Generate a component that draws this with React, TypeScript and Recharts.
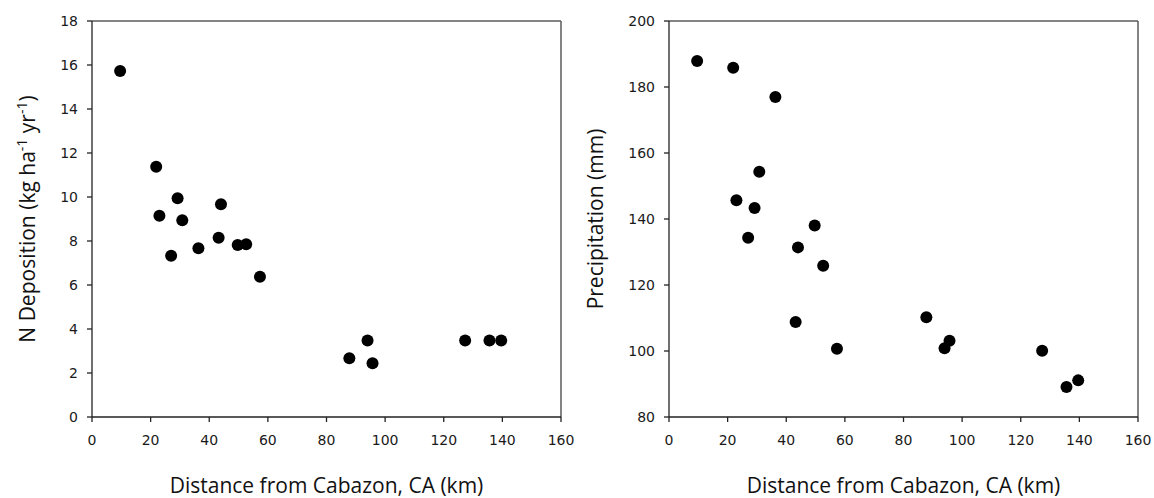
import React from 'react';
import { ScatterChart, Scatter, XAxis, YAxis, ReferenceLine, Label } from 'recharts';

const distanceKm = [9.6, 21.9, 23.0, 27.0, 29.2, 30.8, 36.3, 43.2, 44.0, 49.7, 52.6, 57.3, 87.8, 94.0, 95.7, 127.3, 135.6, 139.6];
const nDeposition = [15.73, 11.38, 9.15, 7.33, 9.94, 8.94, 7.67, 8.15, 9.67, 7.82, 7.85, 6.38, 2.67, 3.48, 2.44, 3.48, 3.48, 3.48];
const precipitation = [187.9, 185.8, 145.7, 134.3, 143.3, 154.3, 177.0, 108.8, 131.4, 138.0, 125.8, 100.7, 110.2, 100.8, 103.1, 100.1, 89.1, 91.1];

const xTicks = [0, 20, 40, 60, 80, 100, 120, 140, 160];
const nTicks = [0, 2, 4, 6, 8, 10, 12, 14, 16, 18];
const precipTicks = [80, 100, 120, 140, 160, 180, 200];

const depositionData = distanceKm.map((d, i) => ({ x: d, y: nDeposition[i] }));
const precipData = distanceKm.map((d, i) => ({ x: d, y: precipitation[i] }));

const tickStyle = { fontFamily: '"DejaVu Sans", sans-serif', fontSize: 14, fill: '#1a1a1a' };
const titleFont = '"Open Sans", sans-serif';
const titleSize = 21;
const axisColor = '#222';
const frameColor = '#5a5a5a';

const Dot = (p: any) => <circle cx={p.cx} cy={p.cy} r={6} fill="#000" />;

const XTitle = ({ viewBox }: any) => (
  <text
    x={viewBox.x + viewBox.width / 2}
    y={viewBox.y + 76}
    textAnchor="middle"
    fontFamily={titleFont}
    fontSize={titleSize}
    fill="#111"
  >
    Distance from Cabazon, CA (km)
  </text>
);

const Panel = ({ data, yDomain, yTicks, yTitle, titleX }: any) => (
  <ScatterChart width={577} height={498} margin={{ top: 21, right: 16, bottom: 0, left: 0 }} style={{ overflow: 'visible' }}>
    <XAxis
      type="number"
      dataKey="x"
      domain={[0, 160]}
      ticks={xTicks}
      height={81}
      tickSize={5}
      tickMargin={13}
      tick={tickStyle}
      axisLine={{ stroke: axisColor, strokeWidth: 1.3 }}
      tickLine={{ stroke: axisColor, strokeWidth: 1.3 }}
    >
      <Label content={XTitle} />
    </XAxis>
    <YAxis
      type="number"
      dataKey="y"
      domain={yDomain}
      ticks={yTicks}
      width={92}
      tickSize={5}
      tickMargin={9}
      tick={tickStyle}
      axisLine={{ stroke: axisColor, strokeWidth: 1.3 }}
      tickLine={{ stroke: axisColor, strokeWidth: 1.3 }}
    >
      <Label
        content={({ viewBox }: any) => {
          const cy = viewBox.y + viewBox.height / 2;
          return (
            <text
              x={titleX}
              y={cy}
              transform={`rotate(-90, ${titleX}, ${cy})`}
              textAnchor="middle"
              fontFamily={titleFont}
              fontSize={titleSize}
              fill="#111"
            >
              {yTitle}
            </text>
          );
        }}
      />
    </YAxis>
    <ReferenceLine y={yDomain[1]} stroke={frameColor} strokeWidth={1.5} />
    <ReferenceLine x={160} stroke={frameColor} strokeWidth={1.5} />
    <Scatter data={data} shape={Dot} isAnimationActive={false} />
  </ScatterChart>
);

const depositionTitle = (
  <>
    N Deposition (kg ha
    <tspan dy={-8} fontSize={14}>-1</tspan>
    <tspan dy={8}> yr</tspan>
    <tspan dy={-8} fontSize={14}>-1</tspan>
    <tspan dy={8}>)</tspan>
  </>
);

export default function App() {
  return (
    <div style={{ position: 'fixed', left: 0, top: 0, width: 1154, height: 498, background: '#fff' }}>
      <div style={{ position: 'absolute', left: 0, top: 0 }}>
        <Panel data={depositionData} yDomain={[0, 18]} yTicks={nTicks} yTitle={depositionTitle} titleX={35} />
      </div>
      <div style={{ position: 'absolute', left: 577, top: 0 }}>
        <Panel data={precipData} yDomain={[80, 200]} yTicks={precipTicks} yTitle="Precipitation (mm)" titleX={26} />
      </div>
    </div>
  );
}
